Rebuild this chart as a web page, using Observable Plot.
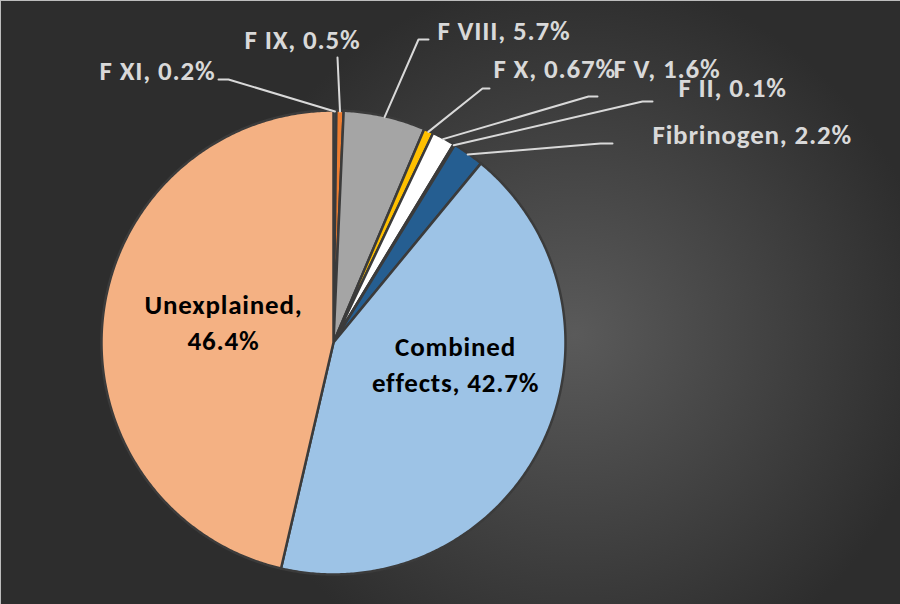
<!DOCTYPE html>
<html><head><meta charset="utf-8">
<script src="https://cdn.jsdelivr.net/npm/d3@7"></script>
<script src="https://cdn.jsdelivr.net/npm/@observablehq/plot@0.6"></script>
<style>body{margin:0;background:#fff} #chart svg text{letter-spacing:0.8px}</style>
</head><body><div id="chart"></div>
<script>
// ---- data ----
const categories = ["F XI", "F IX", "F VIII", "F X", "F V", "F II", "Fibrinogen", "Combined effects", "Unexplained"];
const values = [0.2, 0.5, 5.7, 0.67, 1.6, 0.1, 2.2, 42.7, 46.4];
const labels = ["F XI, 0.2%", "F IX, 0.5%", "F VIII, 5.7%", "F X, 0.67%", "F V, 1.6%", "F II, 0.1%", "Fibrinogen, 2.2%", "Combined\neffects, 42.7%", "Unexplained,\n46.4%"];

// ---- styles / layout ----
const colors = ["#5B9BD5", "#ED7D31", "#A5A5A5", "#FFC000", "#FFFFFF", "#70AD47", "#255E91", "#9DC3E6", "#F4B183"];
const W = 900, H = 604, CX = 333, CY = 342, R = 232;
// manual label placement (text anchor point, leader elbow, leader end) as in the original
const labelLayout = [
  {tx: 215, ty: 71, anchor: "end",    ex: 228, ey: 79,  hx: 218, color: "#d9d9d9"},
  {tx: 302, ty: 40, anchor: "middle", ex: 337, ey: 57,  hx: 337, color: "#d9d9d9"},
  {tx: 437, ty: 31, anchor: "start",  ex: 418, ey: 39,  hx: 428, color: "#d9d9d9"},
  {tx: 493, ty: 69, anchor: "start",  ex: 482, ey: 88,  hx: 489, color: "#d9d9d9"},
  {tx: 613, ty: 69, anchor: "start",  ex: 588, ey: 96,  hx: 597, color: "#d9d9d9"},
  {tx: 678, ty: 88, anchor: "start",  ex: 642, ey: 101, hx: 652, color: "#d9d9d9"},
  {tx: 652, ty: 135, anchor: "start", ex: 600, ey: 143, hx: 612, color: "#d9d9d9"},
  {tx: 455, ty: 365, anchor: "middle", color: "#000"},
  {tx: 223, ty: 323, anchor: "middle", color: "#000"}
];

const rows = categories.map((c, i) => ({name: c, value: values[i], label: labels[i], ...labelLayout[i]}));
const arcs = d3.pie().sort(null).value(d => d.value).startAngle(0).endAngle(2 * Math.PI)(rows);

const slicePts = arcs.flatMap(a => {
  const name = a.data.name;
  const pts = [{name, x: CX, y: CY}];
  const n = Math.max(2, Math.ceil((a.endAngle - a.startAngle) / (Math.PI / 360)));
  for (let k = 0; k <= n; k++) {
    const t = a.startAngle + (a.endAngle - a.startAngle) * k / n;
    pts.push({name, x: CX + R * Math.sin(t), y: CY - R * Math.cos(t)});
  }
  return pts;
});

const outer = arcs.filter(a => a.data.ex !== undefined);
const leaderPts = outer.flatMap(a => {
  const m = (a.startAngle + a.endAngle) / 2, d = a.data;
  return [
    {name: d.name, x: CX + (R - 1) * Math.sin(m), y: CY - (R - 1) * Math.cos(m)},
    {name: d.name, x: d.ex, y: d.ey},
    {name: d.name, x: d.hx, y: d.ey}
  ];
});

const font = "Carlito, Calibri, Lato, 'Open Sans', sans-serif";

const chart = Plot.plot({
  width: W, height: H, margin: 0,
  x: {domain: [0, W], range: [0, W], axis: null},
  y: {domain: [0, H], range: [0, H], axis: null},
  color: {domain: categories, range: colors},
  style: {
    background: "radial-gradient(circle 360px at 575px 335px, #5a5a5a 0%, #2d2d2d 100%)",
    fontFamily: font
  },
  marks: [
    Plot.line(slicePts, {x: "x", y: "y", z: "name", fill: "name", stroke: "#3b3b3b", strokeWidth: 2.5, strokeLinejoin: "round", curve: "linear-closed"}),
    Plot.line(leaderPts, {x: "x", y: "y", z: "name", stroke: "#d9d9d9", strokeWidth: 2}),
    ...["start", "middle", "end"].map(anc =>
      Plot.text(rows.filter(d => d.anchor === anc), {
        x: "tx", y: "ty", text: "label", textAnchor: anc, fill: d => d.color,
        fontSize: 27, fontWeight: "bold", lineHeight: 1.35, dy: -3
      })
    ),
    Plot.frame({stroke: "#bdbdbd", strokeWidth: 1})
  ]
});
document.getElementById("chart").append(chart);
</script>
</body></html>
